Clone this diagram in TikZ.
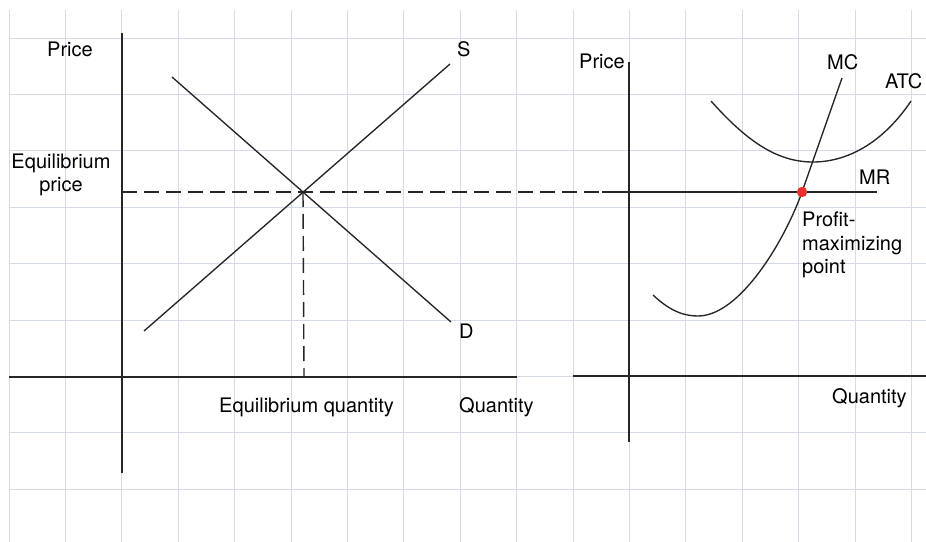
\documentclass[tikz,border=0pt]{standalone}
\usepackage{fontspec}
\setmainfont{TeX Gyre Heros}
\definecolor{gridc}{HTML}{D4DAE8}
\definecolor{ink}{HTML}{262626}
\definecolor{dotred}{HTML}{E8312A}
\tikzset{
  gridline/.style={draw=gridc, line width=0.9bp},
  axis/.style={draw=ink, line width=1.8bp},
  curve/.style={draw=ink, line width=1.35bp},
  dashline/.style={draw=ink, line width=1.4bp, dash pattern=on 15bp off 7bp},
  lbl/.style={inner sep=0pt, anchor=base west, text=black, font=\fontsize{20bp}{24bp}\selectfont},
}
\begin{document}
\begin{tikzpicture}[x=1bp, y=-1bp]
\useasboundingbox (0,0) rectangle (926,542);
\fill[white] (0,0) rectangle (926,542);
% grid
\foreach \k in {0,...,16} { \draw[gridline] ({9+56.4*\k},10) -- ({9+56.4*\k},542); }
\foreach \k in {0,...,8} { \draw[gridline] (9,{38+56.4*\k}) -- (926,{38+56.4*\k}); }

% ---------- left panel ----------
\coordinate (ly0) at (122,33);
\coordinate (ly1) at (122,473);
\coordinate (lx0) at (9,377);
\coordinate (lx1) at (517,377);
\draw[axis] (ly0) -- (ly1);
\draw[axis] (lx0) -- (lx1);

\coordinate (s0) at (144,331);
\coordinate (s1) at (450,64);
\coordinate (d0) at (172,77);
\coordinate (d1) at (451,322);
\coordinate (E) at (303,192);
\coordinate (pe0) at (122,192);
\coordinate (pe1) at (602,192);
\coordinate (qe) at (304,377);
\draw[dashline] (pe0) -- (pe1);
\draw[dashline] (E) -- (qe);
\draw[curve] (s0) -- (s1);
\draw[curve] (d0) -- (d1);

\node[lbl] (price1) at (47,57) {Price};
\node[lbl, anchor=base, align=center] (eqp) at (61,192) {Equilibrium\\[-0.5bp]price};
\node[lbl] (slab) at (457,57) {S};
\node[lbl] (dlab) at (459,339) {D};
\node[lbl] (eqq) at (219,412) {Equilibrium quantity};
\node[lbl] (q1) at (459,412) {Quantity};

% ---------- right panel ----------
\coordinate (ry0) at (629,62);
\coordinate (ry1) at (629,442);
\coordinate (rx0) at (573,376);
\coordinate (rx1) at (926,376);
\draw[axis] (ry0) -- (ry1);
\draw[axis] (rx0) -- (rx1);

\coordinate (mr0) at (602,192);
\coordinate (mr1) at (877,192);
\draw[curve] (mr0) -- (mr1);

\coordinate (P) at (802,192);
\coordinate (mc0) at (653,295);
\coordinate (mcmin) at (698,316);
\coordinate (mc1) at (842,78);
\draw[curve] (mc0) .. controls (671,312) and (685,316) .. (mcmin)
  .. controls (740,316) and (785,240) .. (P) -- (mc1);

\coordinate (atc0) at (711,101);
\coordinate (atcmin) at (813,162);
\coordinate (atc1) at (911,101);
\draw[curve] (atc0) .. controls (750,145) and (780,162) .. (atcmin)
  .. controls (850,162) and (885,140) .. (atc1);

\fill[dotred] (P) circle (5.2bp);

\node[lbl] (price2) at (579,69) {Price};
\node[lbl] (mclab) at (827,70) {MC};
\node[lbl] (atclab) at (885,89) {ATC};
\node[lbl] (mrlab) at (859,185) {MR};
\node[lbl, anchor=north west, align=left, font=\fontsize{20bp}{23.5bp}\selectfont] (pmp) at (802,212) {Profit-\\maximizing\\point};
\node[lbl] (q2) at (832,403) {Quantity};
\end{tikzpicture}
\end{document}
